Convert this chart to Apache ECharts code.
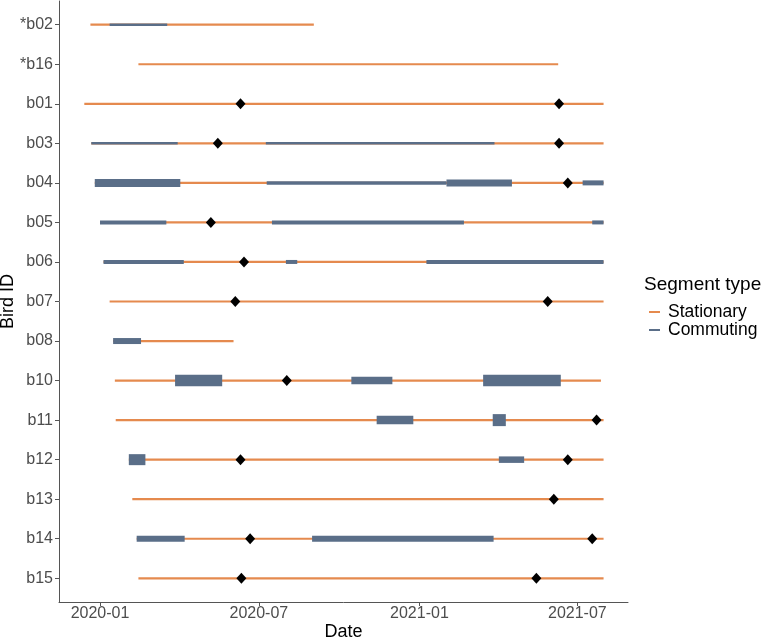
<!DOCTYPE html>
<html>
<head>
<meta charset="utf-8">
<title>Bird segments</title>
<script src="https://cdn.jsdelivr.net/npm/echarts@6/dist/echarts.min.js"></script>
<style>
  html, body { margin: 0; padding: 0; background: #fff; }
  #chart { width: 767px; height: 639px; }
</style>
</head>
<body>
<div id="chart"></div>
<script>
var birds = ['*b02', '*b16', 'b01', 'b03', 'b04', 'b05', 'b06', 'b07', 'b08', 'b10', 'b11', 'b12', 'b13', 'b14', 'b15'];

// whole tracking period per bird (drawn as stationary)
var trackStart = ['2019-12-21', '2020-02-14', '2019-12-14', '2019-12-22', '2019-12-26', '2020-01-01', '2020-01-05',
    '2020-01-12', '2020-01-16', '2020-01-18', '2020-01-19', '2020-02-03', '2020-02-07', '2020-02-12', '2020-02-14'];
var trackEnd = ['2020-09-02', '2021-06-09', '2021-07-31', '2021-07-31', '2021-07-31', '2021-07-31', '2021-07-31',
    '2021-07-31', '2020-06-02', '2021-07-28', '2021-07-31', '2021-07-31', '2021-07-31', '2021-07-31', '2021-07-31'];

// commuting segments: bird index, start, end, weight
var commuting = [
    [0, '2020-01-12', '2020-03-18', 2.5],
    [3, '2019-12-22', '2020-03-30', 2.5],
    [3, '2020-07-09', '2021-03-28', 2.5],
    [4, '2019-12-26', '2020-04-02', 8],
    [4, '2020-07-10', '2021-02-01', 3.5],
    [4, '2021-02-01', '2021-04-17', 7],
    [4, '2021-07-07', '2021-07-31', 5],
    [5, '2020-01-01', '2020-03-17', 4],
    [5, '2020-07-16', '2021-02-21', 4],
    [5, '2021-07-18', '2021-07-31', 4],
    [6, '2020-01-05', '2020-04-06', 4],
    [6, '2020-08-01', '2020-08-14', 4],
    [6, '2021-01-09', '2021-07-31', 4],
    [8, '2020-01-16', '2020-02-17', 6],
    [9, '2020-03-27', '2020-05-20', 11.5],
    [9, '2020-10-15', '2020-12-01', 7.5],
    [9, '2021-03-15', '2021-06-12', 11.5],
    [10, '2020-11-13', '2020-12-25', 8.5],
    [10, '2021-03-26', '2021-04-10', 12],
    [11, '2020-02-03', '2020-02-22', 11],
    [11, '2021-04-02', '2021-05-01', 6.5],
    [13, '2020-02-12', '2020-04-07', 6],
    [13, '2020-08-31', '2021-03-27', 6]
];

// black diamond events: bird index, date
var events = [
    [2, '2020-06-10'], [2, '2021-06-10'],
    [3, '2020-05-15'], [3, '2021-06-10'],
    [4, '2021-06-20'],
    [5, '2020-05-07'],
    [6, '2020-06-14'],
    [7, '2020-06-04'], [7, '2021-05-28'],
    [9, '2020-08-02'],
    [10, '2021-07-23'],
    [11, '2020-06-10'], [11, '2021-06-20'],
    [12, '2021-06-04'],
    [13, '2020-06-21'], [13, '2021-07-18'],
    [14, '2020-06-11'], [14, '2021-05-15']
];

var dateTicks = ['2020-01-01', '2020-07-01', '2021-01-01', '2021-07-01'];

var orange = '#E58A4E';
var slate = '#5A6E88';

function ts(s) {
    var p = s.split('-');
    return Date.UTC(+p[0], +p[1] - 1, +p[2]);
}

var stationaryData = birds.map(function (b, i) {
    return [i, ts(trackStart[i]), ts(trackEnd[i])];
});
var commutingData = commuting.map(function (c) {
    return [c[0], ts(c[1]), ts(c[2]), c[3]];
});
var eventData = events.map(function (e) {
    return [ts(e[1]), e[0]];
});

var chart = echarts.init(document.getElementById('chart'));

var option = {
    animation: false,
    backgroundColor: '#fff',
    textStyle: { fontFamily: 'Liberation Sans, Arial, sans-serif' },
    grid: { left: 59, right: 139, top: 1, bottom: 37, outerBoundsMode: 'none', containLabel: false },
    xAxis: {
        type: 'value',
        min: ts('2019-11-15'),
        max: ts('2021-08-28'),
        name: 'Date',
        nameLocation: 'middle',
        nameGap: 21,
        nameMoveOverlap: false,
        nameTextStyle: { fontSize: 18, color: '#000' },
        axisLine: { onZero: false, lineStyle: { color: '#555', width: 1 } },
        axisTick: { length: 4, lineStyle: { color: '#555' }, customValues: dateTicks.map(ts) },
        axisLabel: {
            customValues: dateTicks.map(ts),
            fontSize: 16,
            color: '#4D4D4D',
            margin: 4,
            formatter: function (v) {
                var d = new Date(v);
                var m = d.getUTCMonth() + 1;
                return d.getUTCFullYear() + '-' + (m < 10 ? '0' + m : m);
            }
        },
        splitLine: { show: false }
    },
    yAxis: {
        type: 'value',
        inverse: true,
        min: -0.6,
        max: 14.6,
        name: 'Bird ID',
        nameLocation: 'middle',
        nameGap: 42,
        nameMoveOverlap: false,
        nameTextStyle: { fontSize: 18, color: '#000' },
        axisLine: { show: true, onZero: false, lineStyle: { color: '#555', width: 1 } },
        axisTick: { show: true, length: 4, lineStyle: { color: '#555' }, customValues: birds.map(function (b, i) { return i; }) },
        axisLabel: {
            customValues: birds.map(function (b, i) { return i; }),
            fontSize: 16,
            color: '#4D4D4D',
            margin: 6,
            formatter: function (v) { return birds[Math.round(v)]; }
        },
        splitLine: { show: false }
    },
    title: {
        text: 'Segment type',
        left: 639,
        top: 270,
        textStyle: { fontSize: 19, fontWeight: 'normal', color: '#000' }
    },
    legend: {
        orient: 'vertical',
        left: 644,
        top: 298,
        itemGap: 0,
        itemWidth: 11,
        itemHeight: 2,
        icon: 'rect',
        textStyle: { fontSize: 17.5, color: '#000', lineHeight: 17, padding: [0, 0, 0, 3] },
        data: ['Stationary', 'Commuting']
    },
    series: [
        {
            name: 'Stationary',
            type: 'custom',
            itemStyle: { color: orange },
            encode: { x: [1, 2], y: 0 },
            data: stationaryData,
            renderItem: function (params, api) {
                var p1 = api.coord([api.value(1), api.value(0)]);
                var p2 = api.coord([api.value(2), api.value(0)]);
                return {
                    type: 'line',
                    shape: { x1: p1[0], y1: p1[1], x2: p2[0], y2: p2[1] },
                    style: { stroke: orange, lineWidth: 2.2 }
                };
            }
        },
        {
            name: 'Commuting',
            type: 'custom',
            itemStyle: { color: slate },
            encode: { x: [1, 2], y: 0 },
            data: commutingData,
            renderItem: function (params, api) {
                var p1 = api.coord([api.value(1), api.value(0)]);
                var p2 = api.coord([api.value(2), api.value(0)]);
                var h = api.value(3);
                return {
                    type: 'rect',
                    shape: { x: p1[0], y: p1[1] - h / 2, width: p2[0] - p1[0], height: h },
                    style: { fill: slate }
                };
            }
        },
        {
            name: 'events',
            type: 'scatter',
            symbol: 'diamond',
            symbolSize: [10, 11],
            itemStyle: { color: '#000', opacity: 1 },
            data: eventData,
            z: 5
        }
    ]
};

chart.setOption(option);
</script>
</body>
</html>
